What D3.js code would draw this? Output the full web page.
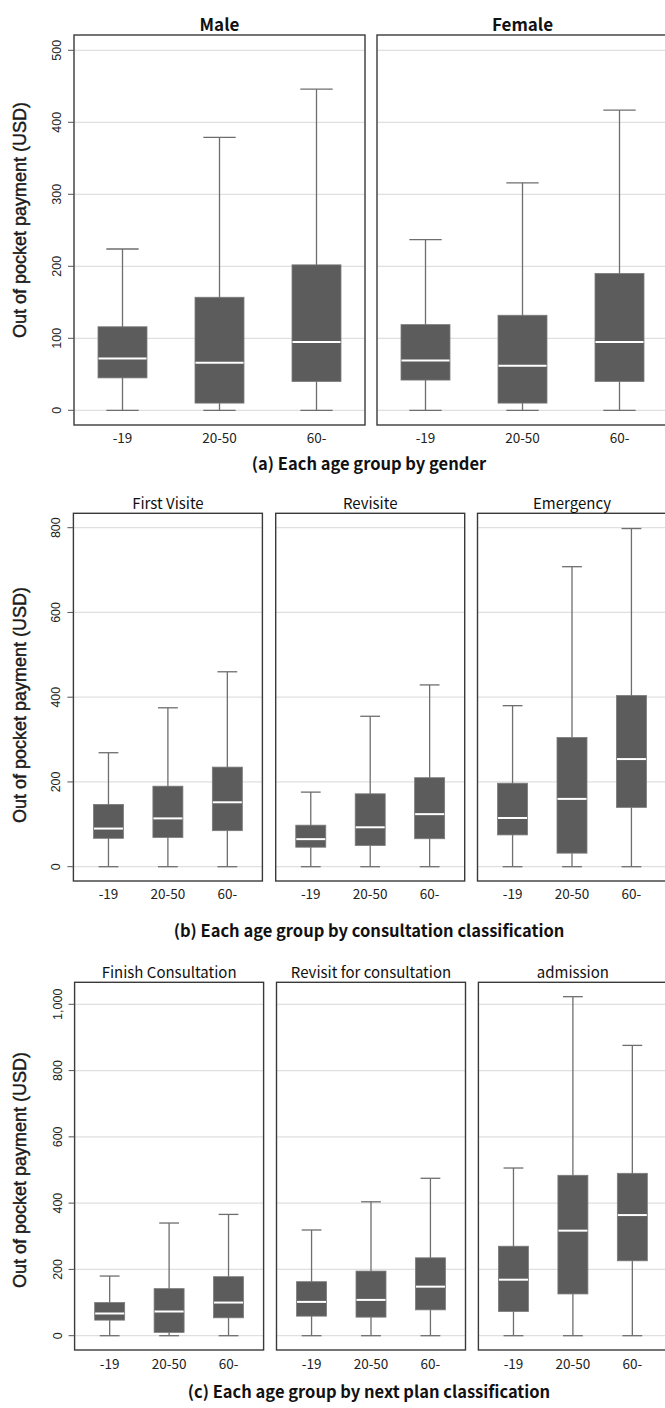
<!DOCTYPE html>
<html>
<head>
<meta charset="utf-8">
<script src="https://cdn.jsdelivr.net/npm/d3@7/dist/d3.min.js"></script>
<style>
  html, body { margin: 0; padding: 0; background: #fff; }
  svg { display: block; }
</style>
</head>
<body>
<svg id="chart" width="665" height="1408"></svg>
<script>
// ---------------- DATA ----------------
const ageGroups = ["-19", "20-50", "60-"];

const genderPanels = ["Male", "Female"];
const consultPanels = ["First Visite", "Revisite", "Emergency"];
const planPanels = ["Finish Consultation", "Revisit for consultation", "admission"];

// each row: [lower whisker, Q1, median, Q3, upper whisker] per age group
const maleStats        = [[0, 45, 72, 116, 224], [0, 10, 66, 157, 379], [0, 40, 95, 202, 446]];
const femaleStats      = [[0, 42, 69, 119, 237], [0, 10, 62, 132, 316], [0, 40, 95, 190, 417]];
const firstVisiteStats = [[0, 67, 90, 147, 269], [0, 69, 114, 190, 375], [0, 85, 152, 235, 460]];
const revisiteStats    = [[0, 46, 65, 98, 176], [0, 50, 93, 172, 355], [0, 66, 124, 210, 429]];
const emergencyStats   = [[0, 75, 115, 197, 380], [0, 32, 160, 305, 708], [0, 140, 254, 404, 798]];
const finishStats      = [[0, 47, 67, 100, 180], [0, 10, 73, 142, 340], [0, 54, 100, 178, 366]];
const revisitConsStats = [[0, 59, 102, 163, 319], [0, 56, 108, 195, 404], [0, 78, 148, 235, 475]];
const admissionStats   = [[0, 73, 169, 270, 506], [0, 126, 317, 484, 1023], [0, 226, 364, 490, 876]];

const ticksA = [0, 100, 200, 300, 400, 500];
const ticksB = [0, 200, 400, 600, 800];
const ticksC = [0, 200, 400, 600, 800, 1000];

const captionA = "(a) Each age group by gender";
const captionB = "(b) Each age group by consultation classification";
const captionC = "(c) Each age group by next plan classification";
const yTitle = "Out of pocket payment (USD)";

// ---------------- LAYOUT ----------------
const svg = d3.select("#chart");
const cjk = "'Noto Sans CJK JP', 'Noto Sans', sans-serif";
const sans = "'Liberation Sans', Arial, Helvetica, sans-serif";

const figures = [
  {
    panels: genderPanels, stats: [maleStats, femaleStats], ticks: ticksA, yMax: 500,
    y0: 410.3, yTop: 50.3, frameTop: 35, frameBottom: 425,
    lefts: [74, 377], width: 291, padding: 0.5, boxW: 49,
    titleY: 23, titleBold: true, titleSize: 17, xLabelY: 437, caption: captionA, captionY: 463,
    yTitleCenter: 220
  },
  {
    panels: consultPanels, stats: [firstVisiteStats, revisiteStats, emergencyStats], ticks: ticksB, yMax: 800,
    y0: 866.7, yTop: 527.7, frameTop: 513.3, frameBottom: 881,
    lefts: [73.4, 275.7, 477.5], width: 189, padding: 0.59, boxW: 30,
    titleY: 502, titleBold: false, titleSize: 15, xLabelY: 893, caption: captionB, captionY: 930,
    yTitleCenter: 705
  },
  {
    panels: planPanels, stats: [finishStats, revisitConsStats, admissionStats], ticks: ticksC, yMax: 1000,
    y0: 1335.7, yTop: 1004.3, frameTop: 982.3, frameBottom: 1350,
    lefts: [74.6, 276.5, 478.4], width: 189, padding: 0.59, boxW: 30,
    titleY: 971, titleBold: false, titleSize: 15, xLabelY: 1363, caption: captionC, captionY: 1391,
    yTitleCenter: 1170
  }
];

const fmt = d3.format(",");

figures.forEach(fig => {
  const y = d3.scaleLinear().domain([0, fig.yMax]).range([fig.y0, fig.yTop]);
  const g = svg.append("g");

  fig.panels.forEach((pName, pi) => {
    const left = fig.lefts[pi];
    const x = d3.scalePoint().domain(ageGroups).range([left, left + fig.width]).padding(fig.padding);
    const pg = g.append("g");

    // gridlines
    pg.selectAll("line.grid").data(fig.ticks).join("line")
      .attr("x1", left).attr("x2", left + fig.width)
      .attr("y1", d => y(d)).attr("y2", d => y(d))
      .attr("stroke", "#e0e0e0").attr("stroke-width", 1.2);

    // boxes
    const data = fig.stats[pi].map((s, i) => ({ age: ageGroups[i], s }));
    const capW = fig.boxW * 0.66;
    const bg = pg.selectAll("g.box").data(data).join("g");
    bg.append("line")
      .attr("x1", d => x(d.age)).attr("x2", d => x(d.age))
      .attr("y1", d => y(d.s[4])).attr("y2", d => y(d.s[0]))
      .attr("stroke", "#6e6e6e").attr("stroke-width", 1.3);
    [0, 4].forEach(k => {
      bg.append("line")
        .attr("x1", d => x(d.age) - capW / 2).attr("x2", d => x(d.age) + capW / 2)
        .attr("y1", d => y(d.s[k])).attr("y2", d => y(d.s[k]))
        .attr("stroke", "#6e6e6e").attr("stroke-width", 1.3);
    });
    bg.append("rect")
      .attr("x", d => x(d.age) - fig.boxW / 2)
      .attr("width", fig.boxW)
      .attr("y", d => y(d.s[3]))
      .attr("height", d => y(d.s[1]) - y(d.s[3]))
      .attr("fill", "#5c5c5c")
      .attr("stroke", "#7a7a7a").attr("stroke-width", 0.8);
    bg.append("line")
      .attr("x1", d => x(d.age) - fig.boxW / 2 + 0.5).attr("x2", d => x(d.age) + fig.boxW / 2 - 0.5)
      .attr("y1", d => y(d.s[2])).attr("y2", d => y(d.s[2]))
      .attr("stroke", "#ffffff").attr("stroke-width", 2);

    // frame
    pg.append("rect")
      .attr("x", left).attr("y", fig.frameTop)
      .attr("width", fig.width).attr("height", fig.frameBottom - fig.frameTop)
      .attr("fill", "none").attr("stroke", "#3a3a3a").attr("stroke-width", 1.4);

    // x labels
    pg.selectAll("text.xl").data(ageGroups).join("text")
      .attr("x", d => x(d)).attr("y", fig.xLabelY)
      .attr("text-anchor", "middle").attr("dominant-baseline", "central")
      .attr("font-family", cjk).attr("font-size", 13.5).attr("fill", "#222")
      .text(d => d);

    // panel title
    pg.append("text")
      .attr("x", left + fig.width / 2)
      .attr("y", fig.titleY)
      .attr("text-anchor", "middle").attr("dominant-baseline", "central")
      .attr("font-family", cjk).attr("font-size", fig.titleSize)
      .attr("font-weight", fig.titleBold ? "bold" : "normal").attr("fill", "#111")
      .text(pName);
  });

  // y axis ticks (outside of first panel)
  const left0 = fig.lefts[0];
  g.selectAll("line.tk").data(fig.ticks).join("line")
    .attr("x1", left0 - 6).attr("x2", left0)
    .attr("y1", d => y(d)).attr("y2", d => y(d))
    .attr("stroke", "#555").attr("stroke-width", 1);
  g.selectAll("text.tl").data(fig.ticks).join("text")
    .attr("transform", d => `translate(${left0 - 17},${y(d)}) rotate(-90)`)
    .attr("text-anchor", "middle").attr("dominant-baseline", "central")
    .attr("font-family", sans).attr("font-size", 12.5).attr("fill", "#222")
    .text(d => fmt(d));

  // y title
  g.append("text")
    .attr("transform", `translate(20,${fig.yTitleCenter}) rotate(-90)`)
    .attr("text-anchor", "middle").attr("dominant-baseline", "central")
    .attr("font-family", sans).attr("font-size", 18)
    .attr("fill", "#1a1a1a").attr("stroke", "#1a1a1a").attr("stroke-width", 0.45)
    .text(yTitle);

  // caption
  g.append("text")
    .attr("x", 369).attr("y", fig.captionY)
    .attr("text-anchor", "middle").attr("dominant-baseline", "central")
    .attr("font-family", cjk).attr("font-size", 16.5).attr("font-weight", "bold")
    .attr("fill", "#111")
    .text(fig.caption);
});
</script>
</body>
</html>
